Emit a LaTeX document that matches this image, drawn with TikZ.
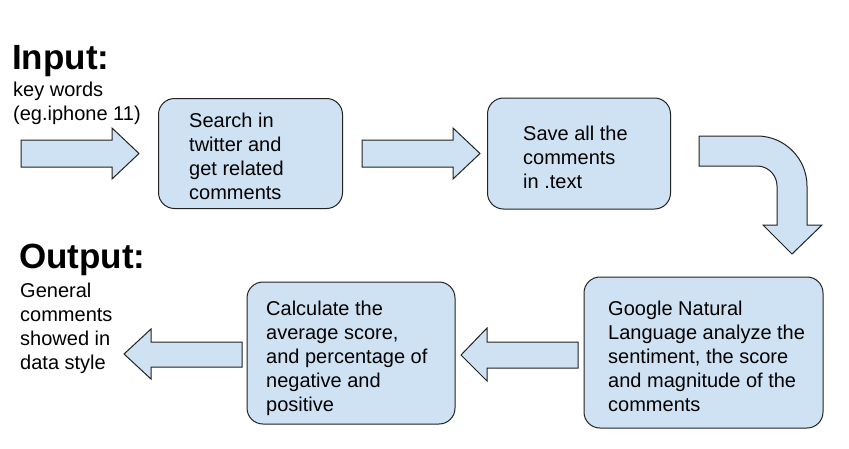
\documentclass[tikz,border=0pt]{standalone}
\usepackage{fontspec}
\setmainfont{Liberation Sans}
\definecolor{boxfill}{HTML}{CFE2F3}
\definecolor{edge}{HTML}{222222}
\tikzset{
  stepbox/.style={draw=edge, fill=boxfill, line width=1pt, rounded corners=16pt, inner sep=0pt},
  blockarrow/.style={draw=edge, fill=boxfill, line width=1pt, line join=miter},
  bodytext/.style={inner sep=0pt, anchor=north west, align=left, font={\fontsize{20}{24}\selectfont}},
  headtext/.style={inner sep=0pt, anchor=base west, font={\fontsize{35}{40}\selectfont\bfseries}},
}
\begin{document}
\begin{tikzpicture}[x=1pt,y=-1pt]
\useasboundingbox (0,0) rectangle (849,448);
\fill[white] (0,0) rectangle (849,448);

% boxes
\node[stepbox, minimum width=184pt, minimum height=110pt] (b1) at (250.5,153.5) {};
\node[stepbox, minimum width=183pt, minimum height=111pt] (b2) at (579,153.5) {};
\node[stepbox, minimum width=239pt, minimum height=151pt] (b3) at (703.5,352.5) {};
\node[stepbox, minimum width=208pt, minimum height=142pt] (b4) at (351,353) {};

% box texts
\node[bodytext] (t1) at (189,110.2) {\strut Search in\\twitter and\\get related\\comments};
\node[bodytext] (t2) at (523,123.2) {\strut Save all the\\comments\\in .text};
\node[bodytext] (t3) at (608,298.2) {\strut Google Natural\\Language analyze the\\sentiment, the score\\and magnitude of the\\comments};
\node[bodytext] (t4) at (266,298.2) {\strut Calculate the\\average score,\\and percentage of\\negative and\\positive};

% input / output
\node[headtext] (inhead) at (12,69) {Input:};
\node[bodytext] (intext) at (13,79.2) {\strut key words\\(eg.iphone 11)};
\node[headtext] (outhead) at (19,268) {Output:};
\node[bodytext] (outtext) at (20,280.2) {\strut General\\comments\\showed in\\data style};

% block arrows
\filldraw[blockarrow] (21,140) -- (112,140) -- (112,128) -- (139,153.5) -- (112,179) -- (112,167) -- (21,167) -- cycle;
\filldraw[blockarrow] (362,140) -- (453,140) -- (453,128) -- (480,153.5) -- (453,179) -- (453,167) -- (362,167) -- cycle;
\filldraw[blockarrow] (699,136) -- (757,136) .. controls (784.6,136) and (807,158.4) .. (807,186)
  -- (807,225) -- (822,225) -- (792,254) -- (763,225) -- (777,225) -- (777,186)
  .. controls (777,175) and (768,166) .. (757,166) -- (699,166) -- cycle;
\filldraw[blockarrow] (578,342) -- (487,342) -- (487,328) -- (461,355) -- (487,381) -- (487,368) -- (578,368) -- cycle;
\filldraw[blockarrow] (242,342) -- (151,342) -- (151,329) -- (124,354) -- (151,379) -- (151,367) -- (242,367) -- cycle;
\end{tikzpicture}
\end{document}
